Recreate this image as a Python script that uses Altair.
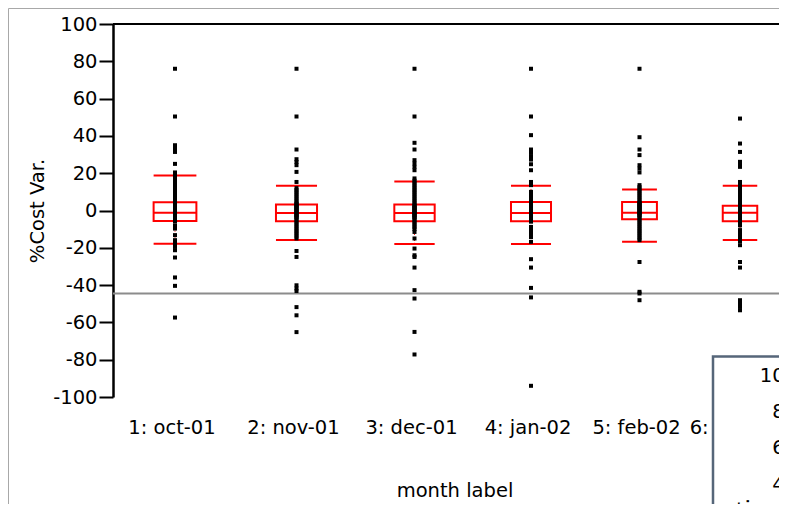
import altair as alt
import pandas as pd

# ---------------- data ----------------
month_labels = ["1: oct-01", "2: nov-01", "3: dec-01", "4: jan-02", "5: feb-02", "6: mar-02"]
# JMP "x axis proportional": relative group widths (sample sizes)
group_width = [124, 119, 117, 116, 101, 100]

cat1 = [76, 50.4, 35, 33.2, 31.4, 25, 20.4, 18.9, 17, 16, 15, 14, 13, 12, 11, 10, 9, 8, 7, 6, 5, 4,
        3.5, 3, 2.5, 2, 1.5, 1, 0.5, 0, -0.5, -1, -1.5, -2, -2.5, -3, -3.5, -4, -5, -6, -8.2, -9.7,
        -13.2, -15.9, -17.7, -19.5, -21.3, -25.2, -35.9, -40.4, -57.4]
cat2 = [76, 50.4, 32.7, 27.5, 26, 24.3, 20.7, 15.3, 12, 11, 10, 9, 8, 7, 6, 5, 4, 3.5, 3, 2.5, 2,
        1.5, 1, 0.5, 0, -0.5, -1, -1.5, -2, -2.5, -3, -3.5, -4, -5, -6, -7, -8, -9, -10, -11, -12,
        -13, -14, -15, -21.7, -24.9, -40.1, -41.8, -43.2, -51.8, -56.2, -65.2]
cat3 = [76, 50.4, 36.3, 32.7, 27, 25.2, 23.4, 21.6, 17.2, 16, 15, 14, 13, 12, 11, 10, 9, 8, 7, 6,
        5, 4, 3, 2.5, 2, 1.5, 1, 0.5, 0, -0.5, -1, -1.5, -2, -2.5, -3, -3.5, -4, -5, -6, -7, -8,
        -9, -10, -11.5, -15, -20.4, -24, -24.9, -30.6, -42.7, -47.2, -65.1, -77.2]
cat4 = [76, 50.4, 40.4, 32.7, 30.9, 29.1, 27.3, 24.8, 21.6, 15.3, 13.6, 10, 9, 8, 7, 6, 5, 4, 3,
        2.5, 2, 1.5, 1, 0.5, 0, -0.5, -1, -1.5, -2, -2.5, -3, -4, -5, -6, -8.8, -9.8, -11.5,
        -12.5, -14.2, -16.8, -26.1, -30.6, -41.5, -46.6, -94]
cat5 = [76, 39.3, 32.7, 29.7, 24.3, 22.5, 20.4, 13.6, 12.5, 11.5, 10.5, 9.5, 8.5, 7.5, 6.5, 5.5,
        4.5, 4, 3.5, 3, 2.5, 2, 1.5, 1, 0.5, 0, -0.5, -1, -1.5, -2, -2.5, -3, -4, -5, -6, -7, -8,
        -9, -10, -11, -12, -13, -14, -15, -15.9, -27.6, -43.6, -44.5, -48.1]
cat6 = [49.3, 35.9, 31.4, 26.1, 25, 24.3, 23.4, 15.3, 14, 13, 12, 11, 10, 9, 8, 7, 6, 5, 4, 3,
        2.5, 2, 1.5, 1, 0.5, 0, -0.5, -1, -1.5, -2, -2.5, -3, -4, -5, -6, -7, -8, -10.5, -11.5,
        -13, -14, -15.5, -16.5, -18.6, -27.6, -30.6, -48.1, -49.9, -51.7, -53.5]
cost_var = [cat1, cat2, cat3, cat4, cat5, cat6]

q3 = [4.4, 3.2, 3.2, 4.5, 4.5, 2.5]
median = [-1.2, -1.3, -1.3, -1.3, -1.2, -1.2]
q1 = [-5.6, -5.7, -5.7, -5.7, -4.7, -5.7]
whisk_hi = [18.7, 13.3, 15.6, 13.3, 11.2, 13.3]
whisk_lo = [-17.8, -15.8, -17.9, -17.9, -16.8, -15.8]

ref_value = [-44.5]
inset_ticks = [100, 80, 60, 40]

# ---------------- layout ----------------
PLOT_W = 666
PLOT_H = 373
X_VISIBLE = 666          # visible part of the proportional x axis
FONT = "DejaVu Sans"
FS = 19.5

# ---------------- derived tables ----------------
bounds = []
acc = 0
for w in group_width:
    acc += w
    bounds.append(acc)
centers = [b - w / 2 for b, w in zip(bounds, group_width)]
half_box = [0.1725 * w for w in group_width]

pts = pd.DataFrame(
    [{"center": c, "value": v} for c, vals in zip(centers, cost_var) for v in vals]
)
boxes = pd.DataFrame({
    "label": month_labels, "center": centers,
    "left": [c - h for c, h in zip(centers, half_box)],
    "right": [c + h for c, h in zip(centers, half_box)],
    "q1": q1, "q3": q3, "med": median, "lo": whisk_lo, "hi": whisk_hi,
})
ref_df = pd.DataFrame({"ref": ref_value})
inset_df = pd.DataFrame({"tick": inset_ticks, "txt": [str(t) for t in inset_ticks]})
one = pd.DataFrame({"a": [0]})

xscale = alt.Scale(domain=[0, X_VISIBLE], nice=False, zero=False)
yscale = alt.Scale(domain=[-100, 100], nice=False, zero=False)
RED = "#ff0000"
FRAME = "#a8a8a8"

frame_left = alt.Chart(one).mark_rule(color=FRAME, strokeWidth=1).encode(
    x=alt.value(-104.5), y=alt.value(-15.5), y2=alt.value(PLOT_H + 120))
frame_top = alt.Chart(one).mark_rule(color=FRAME, strokeWidth=1).encode(
    x=alt.value(-104.5), x2=alt.value(PLOT_W + 20), y=alt.value(-15.5))

whisk = alt.Chart(boxes).mark_rule(color=RED, strokeWidth=1, strokeDash=[1, 2]).encode(
    x=alt.X("center:Q", scale=xscale, axis=None),
    y=alt.Y("lo:Q", scale=yscale, axis=None), y2="hi:Q")

box = alt.Chart(boxes).mark_rect(fillOpacity=0, stroke=RED, strokeWidth=2).encode(
    x=alt.X("left:Q", scale=xscale, axis=None), x2="right:Q",
    y=alt.Y("q3:Q", scale=yscale, axis=None), y2="q1:Q")

med = alt.Chart(boxes).mark_rule(color=RED, strokeWidth=2).encode(
    x=alt.X("left:Q", scale=xscale, axis=None), x2="right:Q",
    y=alt.Y("med:Q", scale=yscale, axis=None))

cap_hi = alt.Chart(boxes).mark_rule(color=RED, strokeWidth=2).encode(
    x=alt.X("left:Q", scale=xscale, axis=None), x2="right:Q",
    y=alt.Y("hi:Q", scale=yscale, axis=None))

cap_lo = alt.Chart(boxes).mark_rule(color=RED, strokeWidth=2).encode(
    x=alt.X("left:Q", scale=xscale, axis=None), x2="right:Q",
    y=alt.Y("lo:Q", scale=yscale, axis=None))

ref = alt.Chart(ref_df).mark_rule(color="#8c8c8c", strokeWidth=2).encode(
    y=alt.Y("ref:Q", scale=yscale, axis=None))

points = alt.Chart(pts).mark_square(size=16, color="black", opacity=1).encode(
    x=alt.X("center:Q", scale=xscale,
            axis=alt.Axis(values=[b for b in bounds if b < X_VISIBLE], labels=False,
                          tickSize=11, tickWidth=2, tickColor="black",
                          domainColor="black", domainWidth=2.5, grid=False, title="")),
    y=alt.Y("value:Q", scale=yscale,
            axis=alt.Axis(values=list(range(-100, 101, 20)), tickSize=14, tickWidth=2,
                          tickColor="black", domainColor="black", domainWidth=2.5,
                          grid=False, labelFont=FONT, labelFontSize=FS, labelColor="black",
                          labelPadding=2, labelExpr="'' + datum.value",
                          title="%Cost Var.", titleFont=FONT,
                          titleFontSize=FS, titleFontWeight="normal", titleColor="black",
                          titleX=-70, titleY=PLOT_H / 2, titleAngle=270,
                          titleAlign="center", titleBaseline="alphabetic")))

top_line = alt.Chart(one).mark_rule(color="black", strokeWidth=2).encode(
    x=alt.value(0), x2=alt.value(PLOT_W), y=alt.value(0))

xlabels = alt.Chart(boxes).mark_text(font=FONT, fontSize=FS, color="black", align="center",
                                     baseline="alphabetic", dx=-3).encode(
    x=alt.X("center:Q", scale=xscale, axis=None), y=alt.value(PLOT_H + 37), text="label:N")

xtitle = alt.Chart(one).mark_text(font=FONT, fontSize=FS, color="black", align="center",
                                  baseline="alphabetic").encode(
    x=alt.value(342), y=alt.value(PLOT_H + 100), text=alt.value("month label"))

inset = alt.Chart(one).mark_rect(fill="white", stroke="#566679", strokeWidth=2.5).encode(
    x=alt.value(600), x2=alt.value(PLOT_W + 40), y=alt.value(332.5), y2=alt.value(PLOT_H + 140))

inset_lab = alt.Chart(inset_df).mark_text(font=FONT, fontSize=FS, color="black", align="right",
                                          baseline="middle").encode(
    x=alt.value(684),
    y=alt.Y("tick:Q", scale=alt.Scale(domain=[100, 40], range=[351.5, 460.5]), axis=None),
    text="txt:N")

inset_title = alt.Chart(one).mark_text(font=FONT, fontSize=FS, color="black", angle=270,
                                       align="right", baseline="alphabetic").encode(
    x=alt.value(636), y=alt.value(474), text=alt.value("%Cost Var."))

chart = alt.layer(
    frame_left, frame_top, ref, whisk, box, med, cap_hi, cap_lo, points, top_line,
    xlabels, xtitle, inset, inset_lab, inset_title
).resolve_scale(y="independent").properties(
    width=PLOT_W, height=PLOT_H,
    autosize=alt.AutoSizeParams(type="none"),
    padding={"left": 105, "top": 16, "right": 0, "bottom": 107},
    background="white",
).configure_view(stroke=None)

chart.save("out.html", embed_options={"renderer": "svg", "actions": False})
